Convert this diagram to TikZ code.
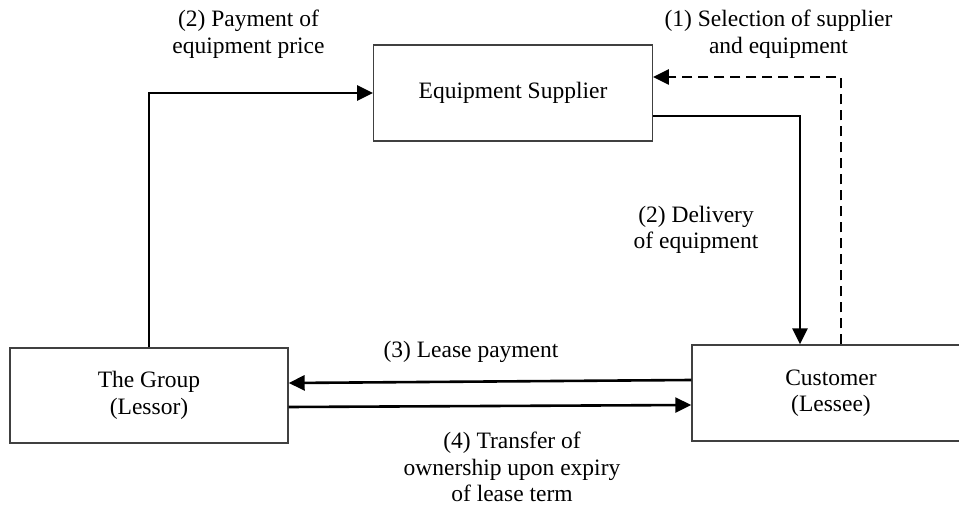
\documentclass[tikz,border=0pt]{standalone}
\usepackage{fontspec}
\setmainfont{Liberation Serif}
\usetikzlibrary{arrows.meta}
\begin{document}
\begin{tikzpicture}[x=1pt,y=-1pt,
  every node/.style={font=\fontsize{23.5}{26.5}\selectfont},
  box/.style={draw=black!75, line width=1.4pt, inner sep=0pt, align=center},
  lbl/.style={align=center, inner sep=0pt},
  conn/.style={line width=2.6pt, -{Triangle[length=16pt,width=15pt]}},
  dconn/.style={line width=2.5pt, dash pattern=on 10pt off 6pt, -{Triangle[length=16pt,width=15pt]}},
]
\useasboundingbox (0,0) rectangle (959,505);
\node[box, minimum width=278.5pt, minimum height=96pt] (sup) at (513,93) {Equipment Supplier};
\node[box, minimum width=278pt, minimum height=95pt] (grp) at (149,395.5) {The Group\\(Lessor)};
\node[box, minimum width=278pt, minimum height=96pt] (cus) at (831,393) {Customer\\(Lessee)};
\coordinate (dx) at (800,0);
\coordinate (dy) at (0,116);
\coordinate (sx) at (841,0);
\coordinate (sy) at (0,77);
\coordinate (ly1) at (0,380);
\coordinate (ly2) at (0,383);
\coordinate (ty1) at (0,407);
\coordinate (ty2) at (0,405);
\draw[conn] (grp.north) |- (sup.west);
\draw[conn] (sup.east |- dy) -| (cus.north -| dx);
\draw[dconn] (cus.north -| sx) |- (sup.east |- sy);
\draw[conn] (cus.west |- ly1) -- (grp.east |- ly2);
\draw[conn] (grp.east |- ty1) -- (cus.west |- ty2);
\node[lbl] (l2p) at (248.5,34) {(2) Payment of\\equipment price};
\node[lbl] (l1) at (778.5,34) {(1) Selection of supplier\\and equipment};
\node[lbl] (l2d) at (696,230) {(2) Delivery\\of equipment};
\node[lbl] (l3) at (471,352) {(3) Lease payment};
\node[lbl] (l4) at (512,467) {(4) Transfer of\\ownership upon expiry\\of lease term};
\end{tikzpicture}
\end{document}
